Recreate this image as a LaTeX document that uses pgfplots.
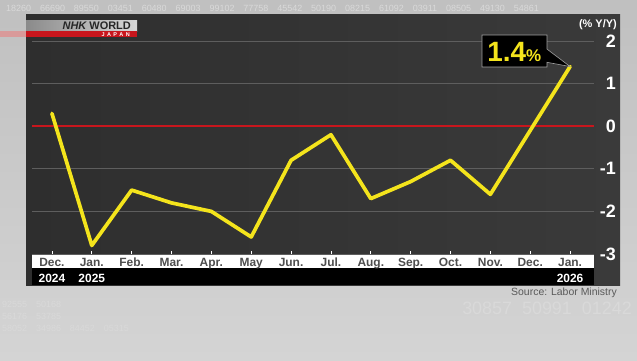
\documentclass[border=0pt]{standalone}
\usepackage{pgfplots}
\pgfplotsset{compat=1.18}
\usepackage{fontspec}
\setmainfont{Liberation Sans}
\definecolor{bgtop}{HTML}{C0C0C0}
\definecolor{bgbot}{HTML}{D4D4D4}
\definecolor{faint}{HTML}{D9D9D9}
\definecolor{panelA}{HTML}{2E2E2E}
\definecolor{panelB}{HTML}{3A3A3A}
\definecolor{gridc}{HTML}{5E5E5E}
\definecolor{nhkred}{HTML}{C8161D}
\definecolor{pinkred}{HTML}{D99A9A}
\definecolor{yel}{HTML}{F4E41C}
\definecolor{xlab}{HTML}{4E4E4E}
\definecolor{srcgray}{HTML}{5A5A5A}
\definecolor{logoL}{HTML}{8A8A8A}
\definecolor{logoR}{HTML}{D8D8D8}
\definecolor{logotext}{HTML}{262626}
\begin{document}
\begin{tikzpicture}
\begin{scope}[x=1bp,y=1bp]
\useasboundingbox (0,0) rectangle (637,360);
\shade[top color=bgtop,bottom color=bgbot] (0,0) rectangle (637,360);
% faint background figures
\begin{scope}[font=\fontsize{9}{9}\selectfont, text=faint]
\clip (0,0) rectangle (637,360);
\node[anchor=base west, inner sep=0] at (6,349) {18260\quad 66690\quad 89550\quad 03451\quad 60480\quad 69003\quad 99102\quad 77758\quad 45542\quad 50190\quad 08215\quad 61092\quad 03911\quad 08505\quad 49130\quad 54861};
\node[anchor=base west, inner sep=0] at (2,53) {92555\quad 50168};
\node[anchor=base west, inner sep=0] at (2,41) {56176\quad 53785};
\node[anchor=base west, inner sep=0] at (2,29) {58052\quad 34986\quad 84452\quad 05315};
\end{scope}
\node[anchor=base east, inner sep=0, font=\fontsize{18}{18}\selectfont, text=faint] at (632,46) {30857\ \ 50991\ \ 01242};
% dark panel and bands
\shade[shading angle=45, left color=panelA, right color=panelB] (26,75) rectangle (620,345);
\fill[white] (32,92) rectangle (594,106);
\fill[black] (32,75) rectangle (594,92);
% logo
\shade[left color=logoL,right color=logoR] (26,329) rectangle (137,339);
\fill[pinkred] (0,323) rectangle (26,329);
\fill[nhkred] (26,323) rectangle (137,329);
\node[anchor=base east, inner sep=0, font=\bfseries\fontsize{11}{11}\selectfont, text=logotext] at (131,330.5) {\itshape NHK\ \upshape WORLD};
\node[anchor=base east, inner sep=0, font=\bfseries\fontsize{5.5}{6}\selectfont, text=white] at (130,324) {J\kern2.4bp A\kern2.4bp P\kern2.4bp A\kern2.4bp N};
% unit and source
\node[anchor=base east, inner sep=0, font=\bfseries\fontsize{11}{11}\selectfont, text=white] at (617,333) {(\% Y/Y)};
\node[anchor=base east, inner sep=0, font=\fontsize{10.5}{10.5}\selectfont, text=srcgray] at (617,65) {Source: Labor Ministry};
\end{scope}
\begin{axis}[
  at={(32bp,106bp)}, anchor=south west,
  width=562bp, height=213bp, scale only axis,
  xmin=-0.5, xmax=13.6, ymin=-3, ymax=2,
  clip=false,
  axis line style={draw=none},
  tick align=inside,
  major tick length=3bp,
  xtick={0,...,13},
  xticklabels={Dec.,Jan.,Feb.,Mar.,Apr.,May,Jun.,Jul.,Aug.,Sep.,Oct.,Nov.,Dec.,Jan.},
  xtick pos=left,
  x tick style={white, line width=0.8bp},
  xticklabel style={anchor=base, yshift=-12bp, inner sep=0pt, font=\bfseries\fontsize{12}{12}\selectfont, text=xlab},
  extra x ticks={0,1,13},
  extra x tick labels={2024,2025,2026},
  extra x tick style={major tick length=0pt, xticklabel style={yshift=-16bp, text=white}},
  ytick={-3,-2,-1,0,1,2},
  yticklabels={-3,-2,-1,0,1,2},
  yticklabel pos=right,
  ytick style={draw=none},
  yticklabel style={anchor=east, xshift=22bp, inner sep=0pt, font=\bfseries\fontsize{18}{18}\selectfont, text=white},
  ymajorgrids,
  grid style={gridc, line width=0.8bp},
]
\addplot[nhkred, line width=2.4bp] coordinates {(-0.5,0) (13.6,0)};
\addplot[yel, line width=3.7bp, line join=round, line cap=round] coordinates {
(0,0.3) (1,-2.8) (2,-1.5) (3,-1.8) (4,-2.0) (5,-2.6) (6,-0.8)
(7,-0.2) (8,-1.7) (9,-1.3) (10,-0.8) (11,-1.6) (12,-0.1) (13,1.4)};
\draw[fill=black, draw=gray!75, line width=0.6bp, line join=miter]
  (axis cs:10.79,2.14) -- (axis cs:12.42,2.14) -- (axis cs:12.42,1.81)
  -- (axis cs:13,1.4) -- (axis cs:12.42,1.50) -- (axis cs:12.42,1.39)
  -- (axis cs:10.79,1.39) -- cycle;
\node[anchor=base, inner sep=0, text=yel, font=\bfseries] at (axis cs:11.6,1.507)
  {\fontsize{28}{28}\selectfont 1.4\fontsize{17}{17}\selectfont\%};
\end{axis}
\end{tikzpicture}
\end{document}
